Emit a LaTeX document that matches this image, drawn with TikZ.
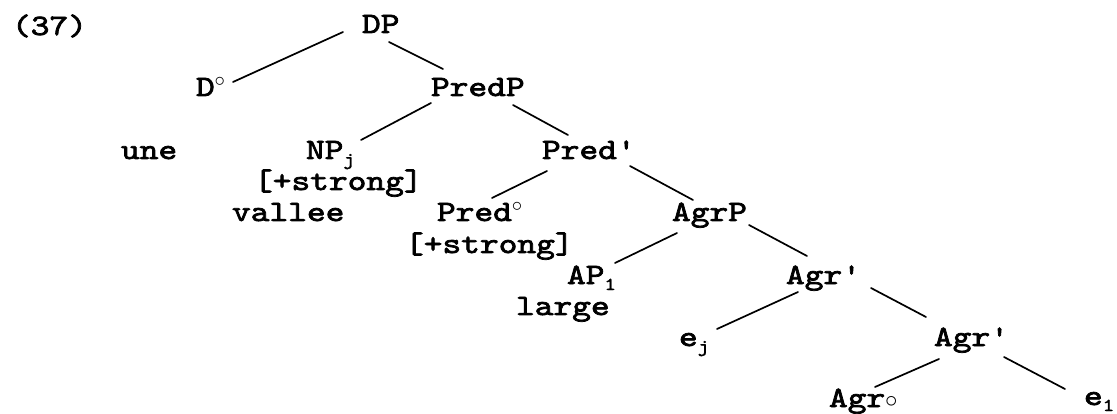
\documentclass[tikz,border=0pt]{standalone}
\usepackage{fontspec}
\newfontfamily\cour{lmmono10-regular.otf}[FakeStretch=1.21,FakeBold=2.5]
\newcommand\lsub[1]{\raisebox{-6pt}{\fontsize{18}{18}\selectfont #1}}
\newcommand\subcirc{{\fontsize{24}{24}\selectfont$\circ$}}
\newcommand\degc{\raisebox{9pt}{\fontsize{22}{22}\selectfont$\circ$}}
\begin{document}
\begin{tikzpicture}[x=1pt,y=-1pt,
  lbl/.style={anchor=base west,inner sep=0pt,outer sep=0pt,font=\cour\fontsize{29.5}{31}\selectfont},
  edge/.style={line width=1.7pt,line cap=round}]
\useasboundingbox (0,0) rectangle (1117,414);
% nodes
\node[lbl] (n37) at (12,35) {(37)};
\node[lbl] (DP) at (362,33) {DP};
\node[lbl] (Dz) at (196,96) {D\degc};
\node[lbl] (PredP) at (431,96) {PredP};
\node[lbl] (une) at (121,159) {une};
\node[lbl] (NP) at (306,159) {NP\lsub{j}};
\node[lbl] (strA) at (254,190) {[+strong]};
\node[lbl] (vallee) at (232,221) {vallee};
\node[lbl] (Predbar) at (542,159) {Pred'};
\node[lbl] (Predz) at (437,221) {Pred\degc};
\node[lbl] (strB) at (405,253) {[+strong]};
\node[lbl] (AgrP) at (672,221) {AgrP};
\node[lbl] (AP) at (567,284) {AP\lsub{1}};
\node[lbl] (large) at (516,315) {large};
\node[lbl] (AgrbarA) at (786,284) {Agr'};
\node[lbl] (ej) at (679,346) {e\lsub{j}};
\node[lbl] (AgrbarB) at (934,346) {Agr'};
\node[lbl] (Agro) at (829,407) {Agr\subcirc};
\node[lbl] (eone) at (1084,405) {e\lsub{1}};
% connectors
\draw[edge] ([shift={(-19,-1)}]DP.base west) -- ([shift={(37,-14)}]Dz.base west);
\draw[edge] ([shift={(27,9)}]DP.base west) -- ([shift={(12,-27)}]PredP.base west);
\draw[edge] ([shift={(0,7)}]PredP.base west) -- ([shift={(55,-19)}]NP.base west);
\draw[edge] ([shift={(82,9)}]PredP.base west) -- ([shift={(26,-24)}]Predbar.base west);
\draw[edge] ([shift={(5,12)}]Predbar.base west) -- ([shift={(55,-23)}]Predz.base west);
\draw[edge] ([shift={(88,7)}]Predbar.base west) -- ([shift={(21,-21)}]AgrP.base west);
\draw[edge] ([shift={(5,12)}]AgrP.base west) -- ([shift={(48,-21)}]AP.base west);
\draw[edge] ([shift={(77,4)}]AgrP.base west) -- ([shift={(21,-28)}]AgrbarA.base west);
\draw[edge] ([shift={(12,8)}]AgrbarA.base west) -- ([shift={(38,-17)}]ej.base west);
\draw[edge] ([shift={(85,4)}]AgrbarA.base west) -- ([shift={(-8,-29)}]AgrbarB.base west);
\draw[edge] ([shift={(5,13)}]AgrbarB.base west) -- ([shift={(46,-20)}]Agro.base west);
\draw[edge] ([shift={(70,11)}]AgrbarB.base west) -- ([shift={(-19,-16)}]eone.base west);
\end{tikzpicture}
\end{document}
